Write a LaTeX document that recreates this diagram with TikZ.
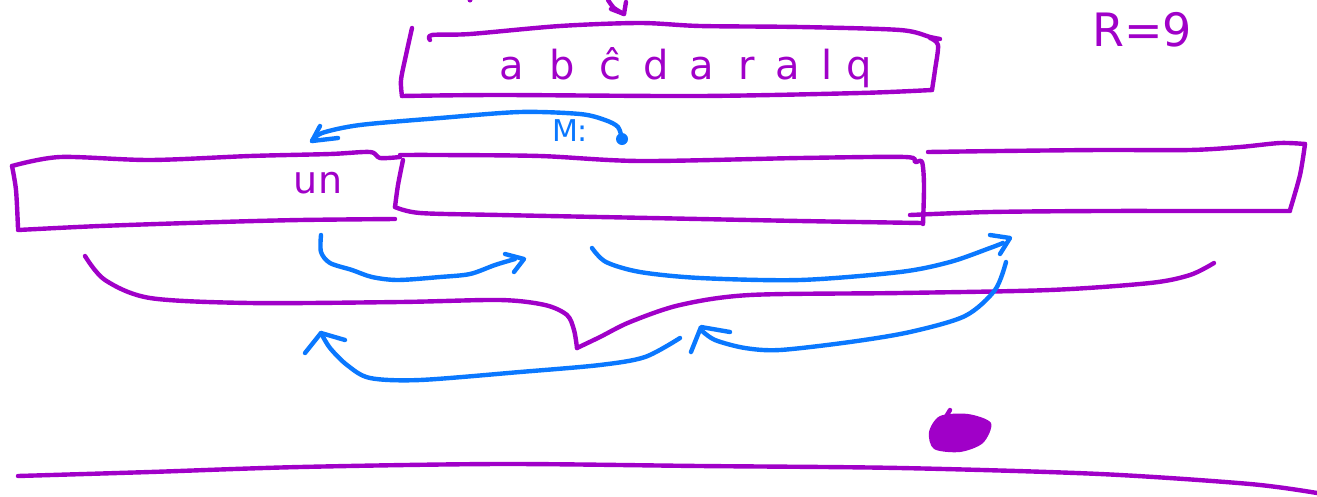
\documentclass[tikz,border=0pt]{standalone}
\usepackage{fontspec}
\setmainfont{DejaVu Sans}
\definecolor{ink}{RGB}{160,0,200}
\definecolor{pen}{RGB}{10,120,255}
\tikzset{
  purp/.style={draw=ink, line width=4.4pt, line cap=round, line join=round},
  blue/.style={draw=pen, line width=4.4pt, line cap=round, line join=round},
  handtext/.style={inner sep=0pt, font=\fontsize{40}{44}\selectfont},
}
\begin{document}
\begin{tikzpicture}[x=1pt,y=-1pt]
\useasboundingbox[fill=white] (0,0) rectangle (1317,496);

% ---------- top box ----------
\draw[purp] plot[smooth] coordinates {(412,28) (406,55) (401,80) (402,96)};
\draw[purp] plot[smooth] coordinates {(402,96) (500,95) (700,96) (860,93) (932,90)};
\draw[purp] plot[smooth] coordinates {(932,90) (935,70) (938,45) (930,38)};
\draw[purp] plot[smooth] coordinates {(430,40) (432,35) (470,34) (560,26) (640,23) (700,26) (800,27) (900,30) (930,37) (940,39)};
\node[handtext, text=ink] (word) at (686,68) {a\hspace{25pt}b\hspace{25pt}ĉ\hspace{22pt}d\hspace{20pt}a\hspace{25pt}r\hspace{20pt}a\hspace{22pt}l\hspace{14pt}q};
% small arrow above top box
\coordinate (tA) at (608,0);
\coordinate (tB) at (624,14);
\draw[purp] plot[smooth] coordinates {(tA) (614,8) (tB)};
\draw[purp] (611,9) -- (tB) -- (626,2);
\fill[ink] (470,0) circle (2.5pt);

% ---------- R=9 ----------
\node[handtext, text=ink, font=\fontsize{46}{50}\selectfont] (R) at (1142,30) {R=9};

% ---------- M: arrow ----------
\coordinate (mS) at (622,139);
\coordinate (mE) at (312,141);
\fill[pen] (mS) circle (6pt);
\draw[blue] plot[smooth] coordinates {(mS) (618,127) (605,120) (580,114) (520,112) (440,118) (360,125) (322,133) (mE)};
\draw[blue] (320,126) -- (mE) -- (338,138);
\node[handtext, text=pen, font=\fontsize{30}{34}\selectfont] (M) at (570,131) {M:};

% ---------- row of boxes ----------
% box 1
\draw[purp] plot[smooth] coordinates {(400,157) (380,158) (370,152) (330,154) (250,156) (150,160) (60,157) (12,166)};
\draw[purp] plot[smooth] coordinates {(12,166) (16,190) (18,228)};
\draw[purp] plot[smooth] coordinates {(18,230) (100,226) (220,222) (300,220) (395,219)};
\node[handtext, text=ink, font=\fontsize{38}{42}\selectfont] (un) at (318,183) {un};
% box 2
\draw[purp] plot[smooth] coordinates {(403,160) (398,185) (395,207)};
\draw[purp] plot[smooth] coordinates {(395,207) (420,213) (500,215) (650,218) (800,221) (922,223)};
\draw[purp] plot[smooth] coordinates {(400,155) (440,155) (540,156) (640,161) (800,158) (905,157) (915,162) (922,162) (924,185) (923,224)};
% box 3
\draw[purp] plot[smooth] coordinates {(928,152) (1000,151) (1100,150) (1190,150) (1240,147) (1280,143) (1305,144)};
\draw[purp] plot[smooth] coordinates {(1305,144) (1300,175) (1290,210)};
\draw[purp] plot[smooth] coordinates {(910,215) (990,212) (1100,211) (1200,211) (1290,211)};

% ---------- big brace ----------
\draw[purp] plot[smooth] coordinates {(85,256) (105,280) (150,298) (250,303) (400,302) (500,300) (545,305) (567,315) (574,330) (577,348)};
\draw[purp] plot[smooth] coordinates {(577,348) (600,337) (630,322) (680,305) (750,295) (900,293) (1050,290) (1150,283) (1190,275) (1214,263)};

% ---------- blue arrows ----------
% a
\coordinate (a1) at (321,235);
\coordinate (a2) at (524,259);
\draw[blue] plot[smooth] coordinates {(a1) (321,252) (330,263) (352,270) (372,277) (398,280) (440,277) (470,274) (495,265) (515,259)};
\draw[blue] (505,254) -- (a2) -- (514,272);
% b
\coordinate (b1) at (592,248);
\coordinate (b2) at (1010,238);
\draw[blue] plot[smooth] coordinates {(b1) (606,262) (640,272) (700,278) (800,280) (900,272) (950,262) (990,248) (1003,243)};
\draw[blue] (990,235) -- (b2) -- (1000,254);
% c
\coordinate (c1) at (1006,262);
\coordinate (c2) at (701,327);
\draw[blue] plot[smooth] coordinates {(c1) (995,290) (965,316) (910,332) (850,342) (780,350) (745,348) (715,340) (701,330)};
\draw[blue] (691,352) -- (c2) -- (730,332);
% d
\coordinate (d1) at (680,338);
\coordinate (d2) at (321,333);
\draw[blue] plot[smooth] coordinates {(d1) (645,357) (600,365) (520,372) (420,380) (370,378) (347,365) (330,348) (d2)};
\draw[blue] (305,353) -- (d2) -- (345,340);

% ---------- blob ----------
\coordinate (blob) at (958,433);
\fill[ink] plot[smooth cycle] coordinates {(929,432) (940,416) (968,414) (991,423) (983,443) (960,452) (934,449)};
\draw[purp] (944,420) -- (950,410);

% ---------- bottom line ----------
\draw[purp] plot[smooth] coordinates {(18,476) (150,472) (300,467) (500,464) (700,466) (900,468) (1100,474) (1250,484) (1317,493)};
\end{tikzpicture}
\end{document}
